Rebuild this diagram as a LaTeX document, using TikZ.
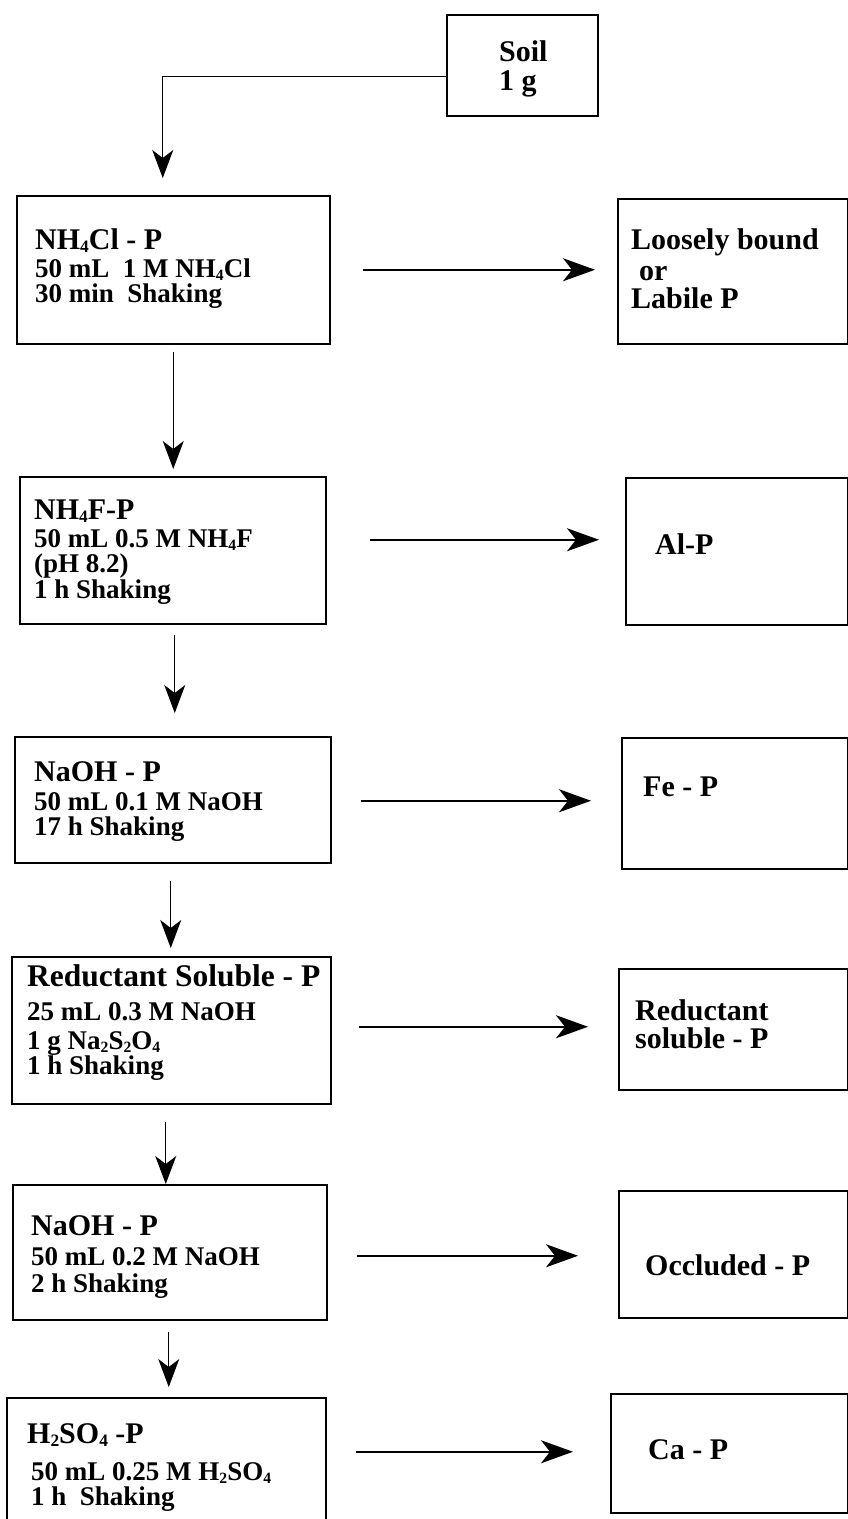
\documentclass[tikz,border=0pt]{standalone}
\usepackage{fontspec}
\usepackage{graphicx}
\setmainfont{Liberation Serif}
\usetikzlibrary{arrows.meta,calc}
\newcommand\subs[1]{\raisebox{-0.25ex}{\scalebox{0.58}{#1}}}
\begin{document}
\begin{tikzpicture}[x=1pt,y=-1pt,
  box/.style={draw, line width=1.5pt, inner sep=0pt, anchor=north west},
  lbl/.style={anchor=base west, inner sep=0pt},
  hd/.style={lbl, font=\fontsize{30}{36}\selectfont\bfseries},
  hdl/.style={lbl, font=\fontsize{31.5}{38}\selectfont\bfseries},
  sub/.style={lbl, font=\fontsize{27}{32}\selectfont\bfseries},
  harr/.style={-{Stealth[length=32pt,width=23pt,inset=9pt]}, line width=1.8pt},
  varr/.style={-{Stealth[length=28pt,width=21pt,inset=8pt]}, line width=1.1pt}]
\useasboundingbox (0,0) rectangle (848,1519);
\fill[white] (0,0) rectangle (848,1519);
\clip (0,0) rectangle (848,1519);

% boxes
\node[box, minimum width=151pt, minimum height=101pt] (soil) at (446,14) {};
\node[box, minimum width=313pt, minimum height=148pt] (b1) at (16,195) {};
\node[box, minimum width=230pt, minimum height=145pt] (r1) at (617,198) {};
\node[box, minimum width=306pt, minimum height=147pt] (b2) at (19,476) {};
\node[box, minimum width=222pt, minimum height=147pt] (r2) at (625,477) {};
\node[box, minimum width=316pt, minimum height=126pt] (b3) at (14,736) {};
\node[box, minimum width=226pt, minimum height=131pt] (r3) at (621,737) {};
\node[box, minimum width=319pt, minimum height=147pt] (b4) at (11,956) {};
\node[box, minimum width=229pt, minimum height=121pt] (r4) at (618,968) {};
\node[box, minimum width=314pt, minimum height=135pt] (b5) at (12,1184) {};
\node[box, minimum width=229pt, minimum height=127pt] (r5) at (618,1190) {};
\node[box, minimum width=319pt, minimum height=138pt] (b6) at (6,1397) {};
\node[box, minimum width=237pt, minimum height=119pt] (r6) at (610,1393) {};

% texts
\node[hd] (s1) at (499,61) {Soil};
\node[hd] (s2) at (499,90) {1 g};

\node[hd] (t1a) at (35,249) {NH\subs{4}Cl - P};
\node[sub] (t1b) at (35,277) {50 mL\ \ 1 M NH\subs{4}Cl};
\node[sub] (t1c) at (35,302) {30 min\ \ Shaking};
\node[hd] (u1a) at (631,249) {Loosely bound};
\node[hd] (u1b) at (639,280) {or};
\node[hd] (u1c) at (631,308) {Labile P};

\node[hd] (t2a) at (34,519) {NH\subs{4}F-P};
\node[sub] (t2b) at (34,547) {50 mL 0.5 M NH\subs{4}F};
\node[sub] (t2c) at (34,572) {(pH 8.2)};
\node[sub] (t2d) at (34,598) {1 h Shaking};
\node[hd] (u2) at (655,554) {Al-P};

\node[hd] (t3a) at (34,781) {NaOH - P};
\node[sub] (t3b) at (34,810) {50 mL 0.1 M NaOH};
\node[sub] (t3c) at (34,835) {17 h Shaking};
\node[hd] (u3) at (643,796) {Fe - P};

\node[hdl] (t4a) at (27,986) {Reductant Soluble - P};
\node[sub] (t4b) at (27,1020) {25 mL 0.3 M NaOH};
\node[sub] (t4c) at (27,1049) {1 g Na\subs{2}S\subs{2}O\subs{4}};
\node[sub] (t4d) at (27,1074) {1 h Shaking};
\node[hd] (u4a) at (635,1020) {Reductant};
\node[hd] (u4b) at (635,1048) {soluble - P};

\node[hd] (t5a) at (31,1235) {NaOH - P};
\node[sub] (t5b) at (31,1265) {50 mL 0.2 M NaOH};
\node[sub] (t5c) at (31,1292) {2 h Shaking};
\node[hd] (u5) at (645,1275) {Occluded - P};

\node[hd] (t6a) at (27,1443) {H\subs{2}SO\subs{4} -P};
\node[sub] (t6b) at (31,1480) {50 mL 0.25 M H\subs{2}SO\subs{4}};
\node[sub] (t6c) at (31,1505) {1 h\ \ Shaking};
\node[hd] (u6) at (648,1459) {Ca - P};

% vertical connectors
\draw[varr, shorten >=17pt] ([yshift=-11.5pt]soil.west) -| ([xshift=-10.5pt]b1.north);
\draw[varr, shorten <=7pt, shorten >=7pt] (b1.south) -- ([xshift=0.5pt]b2.north);
\draw[varr, shorten <=10pt, shorten >=23pt] ([xshift=2pt]b2.south) -- ([xshift=2pt]b3.north);
\draw[varr, shorten <=17pt, shorten >=8pt] ([xshift=-2pt]b3.south) -- ([xshift=-0.5pt]b4.north);
\draw[varr, shorten <=17pt, shorten >=0pt] ([xshift=-5.5pt]b4.south) -- ([xshift=-4pt]b5.north);
\draw[varr, shorten <=11pt, shorten >=10pt] ([xshift=-1pt]b5.south) -- ([xshift=2.5pt]b6.north);

% horizontal connectors
\coordinate (h1) at (b1.east);
\coordinate (h2) at ([yshift=10.5pt]b2.east);
\coordinate (h3) at ([yshift=-1pt]b3.east);
\coordinate (h4) at ([yshift=3.5pt]b4.east);
\coordinate (h5) at ([yshift=-3.5pt]b5.east);
\coordinate (h6) at ([yshift=15pt]b6.east);
\draw[harr, shorten <=32pt, shorten >=22pt] (h1) -- (h1 -| r1.west);
\draw[harr, shorten <=43pt, shorten >=26pt] (h2) -- (h2 -| r2.west);
\draw[harr, shorten <=29pt, shorten >=30pt] (h3) -- (h3 -| r3.west);
\draw[harr, shorten <=27pt, shorten >=30pt] (h4) -- (h4 -| r4.west);
\draw[harr, shorten <=29pt, shorten >=40pt] (h5) -- (h5 -| r5.west);
\draw[harr, shorten <=29pt, shorten >=37pt] (h6) -- (h6 -| r6.west);
\end{tikzpicture}
\end{document}
